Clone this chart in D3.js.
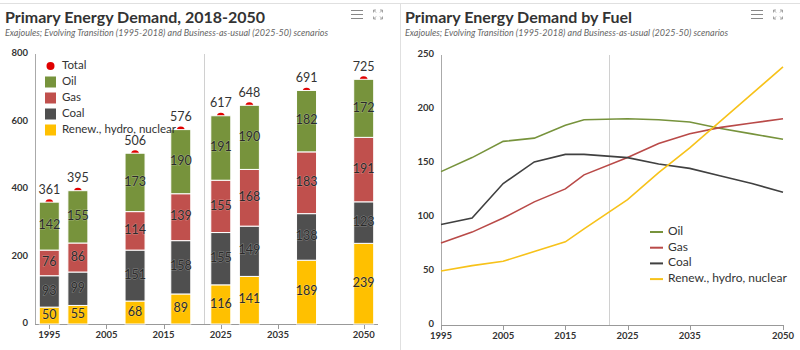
<!DOCTYPE html>
<html>
<head>
<meta charset="utf-8">
<script src="https://cdnjs.cloudflare.com/ajax/libs/d3/7.8.5/d3.min.js"></script>
<style>
  body { margin: 0; background: #fff; }
  svg { display: block; font-family: Lato, "Noto Sans", sans-serif; }
</style>
</head>
<body>
<svg id="chart" width="800" height="350"></svg>
<script>
// bar chart data (exajoules)
let barYears = [1995, 2000, 2010, 2018, 2025, 2030, 2040, 2050];
let renew = [50, 55, 68, 89, 116, 141, 189, 239];
let coal = [93, 99, 151, 158, 155, 149, 138, 123];
let gas = [76, 86, 114, 139, 155, 168, 183, 191];
let oil = [142, 155, 173, 190, 191, 190, 182, 172];
let total = [361, 395, 506, 576, 617, 648, 691, 725];

// line chart data
let lineYears = [1995, 2000, 2005, 2010, 2015, 2018, 2025, 2030, 2035, 2040, 2045, 2050];
let oilLine = [142, 155, 170, 173, 185, 190, 191, 190, 188, 182, 177, 172];
let gasLine = [76, 86, 99, 114, 126, 139, 155, 168, 177, 183, 187, 191];
let coalLine = [93, 99, 131, 151, 158, 158, 155, 149, 145, 138, 131, 123];
let renewLine = [50, 55, 59, 68, 77, 89, 116, 141, 164, 189, 214, 239];

let xTicks = [1995, 2005, 2015, 2025, 2035, 2050];
let leftYTicks = [0, 200, 400, 600, 800];
let rightYTicks = [0, 50, 100, 150, 200, 250];
let dividerYear = 2022;

let fuels = ["Oil", "Gas", "Coal", "Renew., hydro, nuclear"];
let colors = {"Oil": "#77933c", "Gas": "#c0504d", "Coal": "#4f4f4f", "Renew., hydro, nuclear": "#ffc000"};
let lineColors = {"Oil": "#77933c", "Gas": "#b94a48", "Coal": "#404040", "Renew., hydro, nuclear": "#f7c21a"};

let svg = d3.select("#chart");

// frame
svg.append("line").attr("x1", 0).attr("x2", 800).attr("y1", 3.5).attr("y2", 3.5)
    .attr("stroke", "#e0e0e0");
svg.append("line").attr("x1", 400.5).attr("x2", 400.5).attr("y1", 3).attr("y2", 350)
    .attr("stroke", "#e0e0e0");

function header(x0, title) {
    svg.append("text").attr("x", x0 + 5).attr("y", 23)
        .attr("font-size", "16px").attr("font-weight", "bold").attr("fill", "#333")
        .text(title);
    svg.append("text").attr("x", x0 + 5).attr("y", 35.5)
        .attr("font-size", "9px").attr("font-style", "italic").attr("fill", "#666")
        .text("Exajoules; Evolving Transition (1995-2018) and Business-as-usual (2025-50) scenarios");
    // menu icon
    let g = svg.append("g").attr("stroke", "#888").attr("stroke-width", 1).attr("fill", "none");
    [10.5, 14.5, 18.5].forEach(y => {
        g.append("line").attr("x1", x0 + 351).attr("x2", x0 + 363).attr("y1", y).attr("y2", y);
    });
    // fullscreen icon
    let f = svg.append("g").attr("stroke", "#999").attr("stroke-width", 0.9).attr("fill", "none");
    let cx = x0 + 378, cy = 14.5;
    [[-1, -1], [1, -1], [-1, 1], [1, 1]].forEach(s => {
        let ox = cx + s[0] * 4.5, oy = cy + s[1] * 4.5;
        f.append("path").attr("d", "M" + ox + "," + (oy - s[1] * 2.5) + "L" + ox + "," + oy + "L" + (ox - s[0] * 2.5) + "," + oy);
        f.append("line").attr("x1", ox).attr("y1", oy).attr("x2", ox - s[0] * 2.5).attr("y2", oy - s[1] * 2.5);
    });
}

header(0, "Primary Energy Demand, 2018-2050");
header(400, "Primary Energy Demand by Fuel");

function axes(x, y, yTicks, yTop) {
    // y axis labels
    svg.append("g").selectAll("text").data(yTicks).enter().append("text")
        .attr("x", x.range()[0] - 7).attr("y", d => y(d))
        .attr("text-anchor", "end").attr("dominant-baseline", "middle")
        .attr("font-size", "9.5px").attr("font-weight", "bold").attr("fill", "#333")
        .text(d => d);
    svg.append("line").attr("x1", x.range()[0] + 0.5).attr("x2", x.range()[0] + 0.5)
        .attr("y1", yTop).attr("y2", y(0)).attr("stroke", "#aaa");
    // x axis
    svg.append("line").attr("x1", x.range()[0]).attr("x2", x.range()[1])
        .attr("y1", y(0) + 0.5).attr("y2", y(0) + 0.5).attr("stroke", "#999");
    let t = svg.append("g").selectAll("g").data(xTicks).enter().append("g");
    t.append("line").attr("x1", d => Math.round(x(d)) + 0.5).attr("x2", d => Math.round(x(d)) + 0.5)
        .attr("y1", y(0)).attr("y2", y(0) + 5).attr("stroke", "#999");
    t.append("text").attr("x", d => x(d)).attr("y", y(0) + 14)
        .attr("text-anchor", "middle").attr("font-size", "9.5px").attr("font-weight", "bold").attr("fill", "#333")
        .text(d => d);
    // divider between history and scenario
    svg.append("line").attr("x1", Math.round(x(dividerYear)) + 0.5).attr("x2", Math.round(x(dividerYear)) + 0.5)
        .attr("y1", yTop).attr("y2", y(0)).attr("stroke", "#d0d0d0");
}

// ---------- left: stacked columns ----------
let xL = d3.scaleLinear().domain([1992.5, 2052.5]).range([35, 378]);
let yL = d3.scaleLinear().domain([0, 800]).range([324, 54]);
axes(xL, yL, leftYTicks, 54);

let table = barYears.map((yr, i) => ({
    "year": yr, "Renew., hydro, nuclear": renew[i], "Coal": coal[i], "Gas": gas[i], "Oil": oil[i], "total": total[i]
}));
let stack = d3.stack().keys(["Renew., hydro, nuclear", "Coal", "Gas", "Oil"])(table);
let barW = 20;

// total markers (sit behind the columns)
svg.append("g").selectAll("circle").data(table).enter().append("circle")
    .attr("cx", d => xL(d.year)).attr("cy", d => yL(d.total) + 1)
    .attr("r", 4).attr("fill", "#e00000");

let layers = svg.append("g").selectAll("g").data(stack).enter().append("g")
    .attr("fill", d => colors[d.key]);
layers.selectAll("rect").data(d => d).enter().append("rect")
    .attr("x", d => xL(d.data.year) - barW / 2)
    .attr("y", d => yL(d[1]))
    .attr("width", barW)
    .attr("height", d => yL(d[0]) - yL(d[1]))
    .attr("stroke", "#fff").attr("stroke-width", 1);

// segment labels use the value of each series
layers.selectAll("text").data(d => d.map(p => ({"p": p, "v": p.data[d.key]}))).enter().append("text")
    .attr("x", d => xL(d.p.data.year))
    .attr("y", d => (yL(d.p[0]) + yL(d.p[1])) / 2)
    .attr("text-anchor", "middle").attr("dominant-baseline", "middle")
    .attr("font-size", "12.5px").attr("fill", "#2a2a2a")
    .attr("stroke", "rgba(255,255,255,0.3)").attr("stroke-width", 1).attr("paint-order", "stroke")
    .text(d => d.v);

svg.append("g").selectAll("text").data(table).enter().append("text")
    .attr("x", d => xL(d.year)).attr("y", d => yL(d.total) - 11.5)
    .attr("text-anchor", "middle").attr("dominant-baseline", "middle")
    .attr("font-size", "12.5px").attr("fill", "#333")
    .text(d => d.total);

// left legend
let legL = svg.append("g").attr("transform", "translate(45,66)");
legL.append("circle").attr("cx", 5.5).attr("cy", 0).attr("r", 4).attr("fill", "#e00000");
legL.append("text").attr("x", 17).attr("y", 0).attr("dominant-baseline", "middle")
    .attr("font-size", "11.5px").attr("fill", "#333").text("Total");
fuels.forEach((f, i) => {
    let yy = 16 * (i + 1);
    legL.append("rect").attr("x", 0).attr("y", yy - 5.5).attr("width", 11).attr("height", 11).attr("fill", colors[f]);
    legL.append("text").attr("x", 17).attr("y", yy).attr("dominant-baseline", "middle")
        .attr("font-size", "11.5px").attr("fill", "#333").text(f);
});

// ---------- right: lines ----------
let xR = d3.scaleLinear().domain([1995, 2050]).range([441, 783]);
let yR = d3.scaleLinear().domain([0, 250]).range([325, 55]);
axes(xR, yR, rightYTicks, 55);

let series = [
    {"name": "Oil", "values": oilLine},
    {"name": "Gas", "values": gasLine},
    {"name": "Coal", "values": coalLine},
    {"name": "Renew., hydro, nuclear", "values": renewLine}
];
let line = d3.line().x((d, i) => xR(lineYears[i])).y(d => yR(d));
svg.append("g").selectAll("path").data(series).enter().append("path")
    .attr("d", d => line(d.values))
    .attr("fill", "none").attr("stroke", d => lineColors[d.name]).attr("stroke-width", 1.6);

let legR = svg.append("g").attr("transform", "translate(650,232)");
series.forEach((s, i) => {
    let yy = 15.7 * i;
    legR.append("line").attr("x1", 0).attr("x2", 13).attr("y1", yy).attr("y2", yy)
        .attr("stroke", lineColors[s.name]).attr("stroke-width", 2);
    legR.append("text").attr("x", 18).attr("y", yy).attr("dominant-baseline", "middle")
        .attr("font-size", "12px").attr("fill", "#333").text(s.name);
});
</script>
</body>
</html>
